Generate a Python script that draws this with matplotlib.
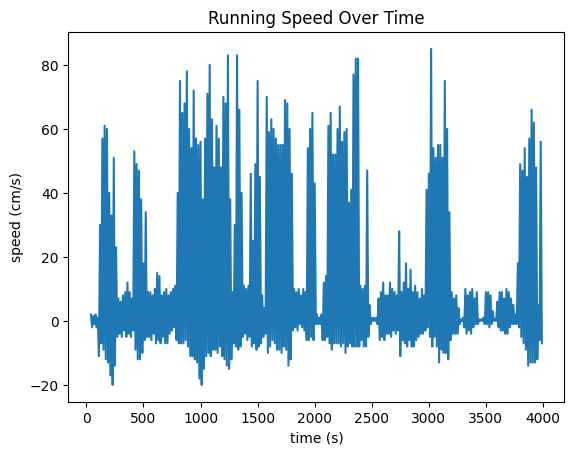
import numpy as np
import matplotlib
matplotlib.use('Agg')
import matplotlib.pyplot as plt

# upper / lower extremes of the speed trace, one pair per 20 s bin (starting at t = 40 s)
speed_high = [
    2, 1.5, 2, 1, 30, 57, 61, 60, 40, 33,
    51, 23, 7, 6, 8, 9, 12, 9, 7, 53,
    49, 47, 38, 18, 34, 9, 9, 8, 10, 15,
    14, 8, 9, 10, 8, 9, 10, 11, 40, 75,
    65, 68, 78, 60, 54, 72, 57, 55, 56, 38,
    57, 71, 80, 63, 48, 61, 57, 48, 70, 68,
    83, 38, 9, 30, 83, 66, 40, 11, 10, 11,
    46, 25, 49, 75, 45, 8, 4, 70, 59, 63,
    60, 57, 55, 55, 55, 69, 68, 60, 46, 10,
    9, 10, 8, 10, 9, 54, 60, 65, 43, 2,
    1, 2, 12, 14, 61, 65, 52, 52, 60, 67,
    56, 59, 60, 37, 41, 77, 82, 82, 11, 10,
    11, 47, 5, 1, 1, 1, 7, 9, 12, 8,
    8, 12, 10, 9, 8, 28, 9, 12, 18, 10,
    16, 9, 11, 9, 7, 10, 8, 41, 46, 85,
    54, 51, 55, 55, 51, 75, 60, 34, 9, 7,
    8, 4, 0.5, 1, 10, 8, 9, 10, 7, 9,
    0.5, 0.5, 1, 9, 9, 8, 3, 0.5, 6, 9,
    9, 7, 10, 9, 7, 5, 2, 18, 49, 47,
    54, 45, 57, 66, 62, 48, 5, 56,
]
speed_low = [
    -2, -1, -2, -11, -7, -9, -12, -13, -17, -20,
    -14, -5, -4, -5, -3, -5, -4, -5, -3, -9,
    -12, -12, -10, -6, -5, -5, -6, -4, -7, -6,
    -7, -5, -7, -7, -4, -3, -2, -6, -7, -7,
    -7, -6, -8, -11, -11, -12, -13, -18, -20, -15,
    -11, -10, -11, -9, -9, -10, -8, -11, -12, -14,
    -15, -12, -7, -8, -9, -8, -5, -4, -6, -5,
    -8, -7, -9, -8, -7, -5, -4, -10, -8, -6,
    -7, -9, -9, -10, -8, -9, -14, -12, -3, -2,
    -3, -1, -2, -3, -6, -6, -5, -6, -1, -1,
    -1, -6, -6, -5, -7, -9, -7, -7, -7, -8,
    -7, -10, -8, -7, -8, -8, -8, -8, -6, -8,
    -8, -5, -1, 0, 0, -1, -6, -5, -6, -4,
    -4, -5, -3, -4, -3, -11, -6, -7, -8, -6,
    -8, -8, -6, -5, -4, -4, -3, -2, -5, -8,
    -5, -8, -13, -9, -10, -10, -12, -6, -4, -4,
    -4, -1, 0, -2, -4, -3, -4, -2, -1, -1,
    0, 0, -1, -1, -2, -1, 0, 0, -2, -3,
    -3, -4, -4, -2, -1, -1, -1, -2, -5, -7,
    -9, -14, -13, -13, -13, -12, -6, -7,
]

# the trace swings between the extremes, one sample every 10 s
speed = np.empty(2 * len(speed_high))
speed[0::2] = speed_high
speed[1::2] = speed_low
time = 40 + 10 * np.arange(len(speed))

fig, ax = plt.subplots(figsize=(6.4, 4.8), dpi=100)
ax.plot(time, speed)
ax.set_title('Running Speed Over Time')
ax.set_xlabel('time (s)')
ax.set_ylabel('speed (cm/s)')
plt.savefig('out.png', bbox_inches='tight')
